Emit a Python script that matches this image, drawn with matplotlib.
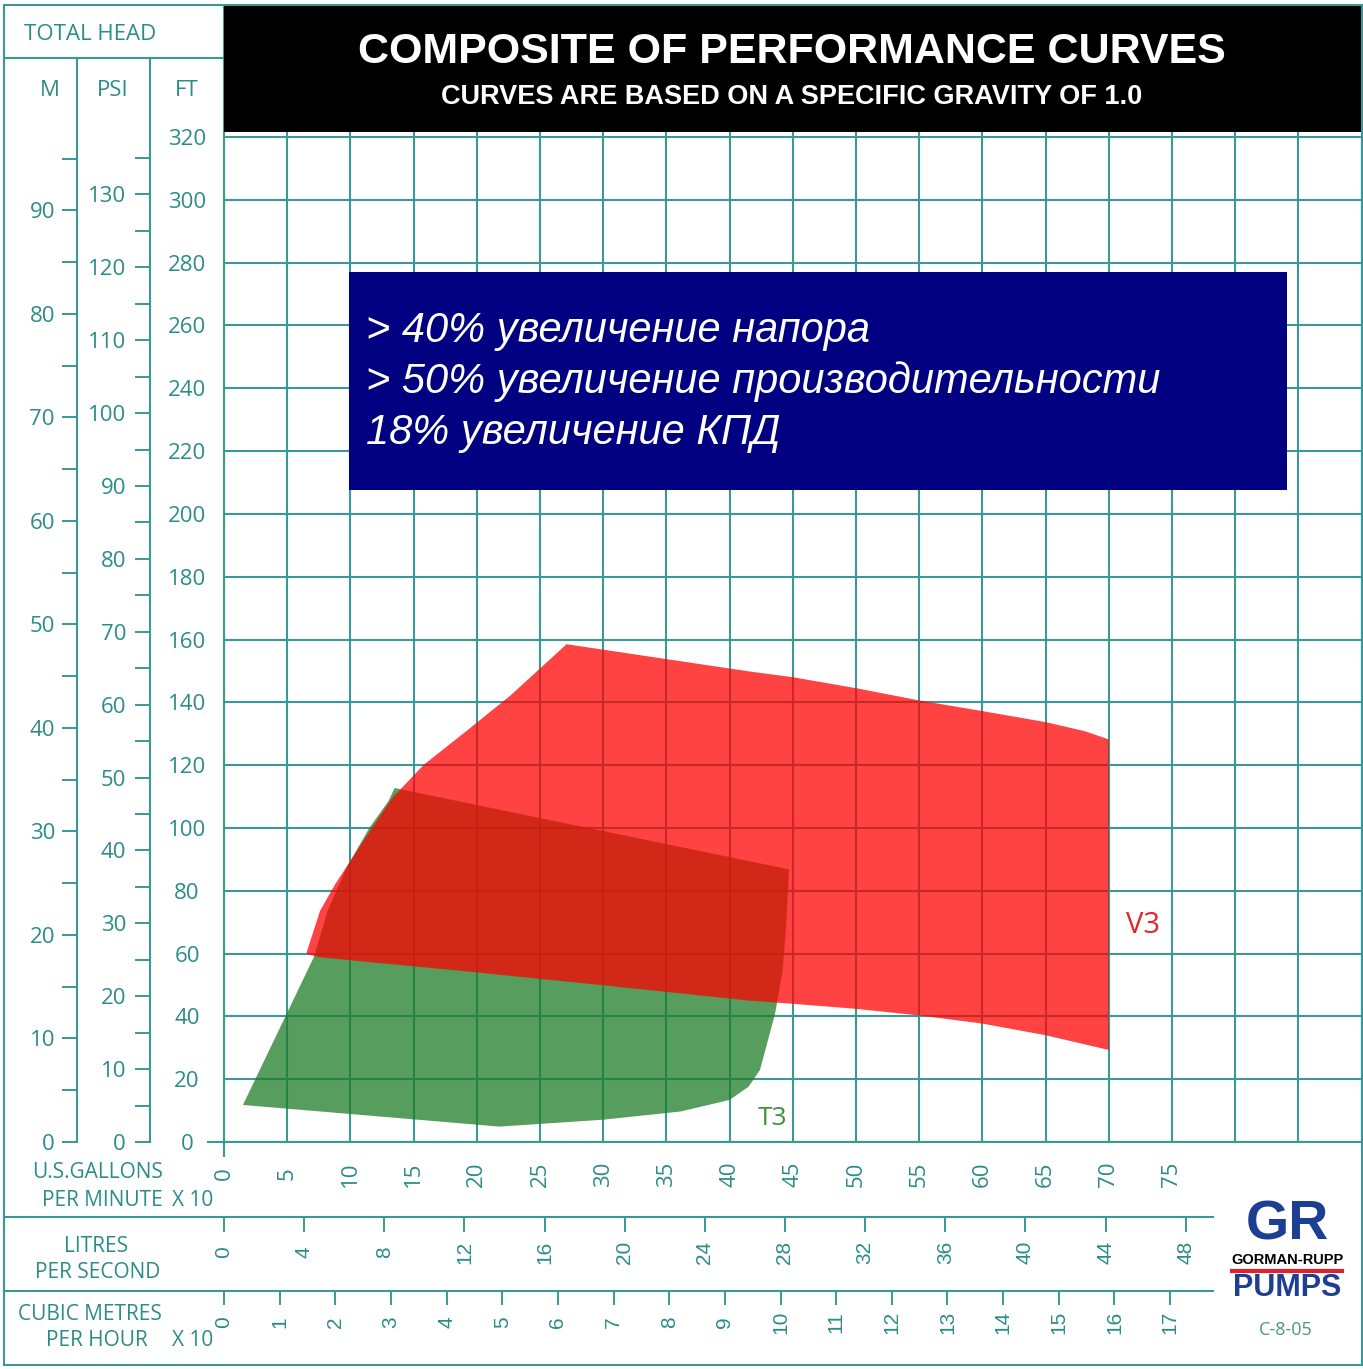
import matplotlib
matplotlib.use('Agg')
import matplotlib.pyplot as plt
from matplotlib.patches import Rectangle, Polygon
from matplotlib.lines import Line2D
import numpy as np

# performance areas: flow in US gallons per minute x10, head in feet
v3_flow = [6.5, 7.6, 8.8, 11.2, 13.3, 15.8, 19.1, 22.7, 27.1, 41.6, 45, 50, 55, 60, 65, 68.1, 70,
           70, 65, 60, 55, 50, 45, 41.6, 30, 18.5, 7.6]
v3_head = [59.9, 73.6, 82.1, 96.9, 109.5, 120.1, 130.6, 142.3, 158.5, 149.8, 148, 144.5, 140.6, 137.2, 133.7, 130.8, 128.2,
           29.3, 34, 37.7, 40.3, 42.4, 44, 45, 49.9, 54.6, 58.8]
t3_flow = [1.5, 7.1, 8.2, 9.7, 11.5, 13.0, 13.5, 28.8, 44.7, 44.5, 44.2, 43.6, 42.4, 41.5, 40, 36.1, 30, 21.8]
t3_head = [11.8, 58.8, 73.6, 87.4, 100, 108.5, 112.7, 100, 86.8, 70.4, 54.6, 40.9, 22.9, 17.6, 13.4, 9.7, 7.1, 4.9]

gpm_ticks = list(range(0, 80, 5))
grid_x = list(range(0, 95, 5))
ft_ticks = list(range(0, 340, 20))
m_major = list(range(0, 100, 10))
m_minor = list(range(5, 100, 10))
psi_major = list(range(0, 140, 10))
psi_minor = list(range(5, 140, 10))
lps_ticks = list(range(0, 52, 4))
m3h_ticks = list(range(0, 18))

box_lines = ['> 40% увеличение напора',
             '> 50% увеличение производительности',
             '18% увеличение КПД']

# scale ratios as printed on the chart
FT_PER_M = 3.296
FT_PER_PSI = 2.321
LPS_PER_GPM = 0.0630902
M3H_PER_GPM = 0.227125

TEAL = '#2b8c88'
GRID = '#3a9995'

plt.rcParams['font.family'] = ['Open Sans', 'DejaVu Sans']

W, H = 1363, 1369
def box(l, t, r, b):
    return [l / W, 1 - b / H, (r - l) / W, (b - t) / H]
def fx(px):
    return px / W
def fy(py):
    return 1 - py / H

PPF = 1005 / 320.0   # pixels per foot
X_L, X_R, Y_B, Y_T = 224, 1361.6, 1142, 6

fig = plt.figure(figsize=(W / 100, H / 100), dpi=100)
fig.patch.set_facecolor('white')

# main chart
ax = fig.add_axes(box(X_L, Y_T, X_R, Y_B))
ax.set_xlim(0, 90)
ax.set_ylim(0, (Y_B - Y_T) / PPF)
ax.set_axisbelow(True)
ax.grid(True, color=GRID, lw=1.5)
for s in ['left', 'bottom', 'right']:
    ax.spines[s].set_color(GRID)
    ax.spines[s].set_linewidth(1.5)
ax.spines['top'].set_visible(False)

ax.set_xticks(grid_x, labels=[str(v) if v in gpm_ticks else '' for v in grid_x])
ax.tick_params(axis='x', length=11, width=1.5, color=GRID, direction='out', pad=12,
               labelrotation=90, labelcolor=TEAL, labelsize=16)
for i, t in enumerate(ax.xaxis.get_major_ticks()):
    t.label1.set_va('center')
    if i > 0:
        t.tick1line.set_visible(False)

ax.set_yticks(ft_ticks)
ax.tick_params(axis='y', length=0, pad=26.6, labelcolor=TEAL, labelsize=16)
for t in ax.yaxis.get_major_ticks():
    t.label1.set_ha('center')
ax.axhline(0, xmin=-(X_L - 208) / (X_R - X_L), xmax=0, color=GRID, lw=1.5, clip_on=False)

ax.add_patch(Polygon(np.column_stack([t3_flow, t3_head]), closed=True,
                     facecolor='#1e7d28', alpha=0.75, edgecolor='none', zorder=2))
ax.add_patch(Polygon(np.column_stack([v3_flow, v3_head]), closed=True,
                     facecolor='#ff0000', alpha=0.74, edgecolor='none', zorder=3))
ax.text(72.7, 69, 'V3', color='#e0262b', fontsize=21, ha='center', va='center')
ax.text(43.4, 7.6, 'T3', color='#3d9140', fontsize=19, ha='center', va='center')

# metres scale
axm = fig.add_axes(box(4, 58, 77, Y_B))
axm.set_ylim(0, (Y_B - 58) / PPF / FT_PER_M)
axm.set_yticks(m_major)
axm.set_yticks(m_minor, minor=True)
axm.tick_params(axis='y', which='both', left=False, right=True, labelleft=True, labelright=False,
                direction='in', length=11, width=1.4, color=GRID, pad=-36.7,
                labelcolor=TEAL, labelsize=16)
# psi scale
axp = fig.add_axes(box(77, 58, 150, Y_B))
axp.set_ylim(0, (Y_B - 58) / PPF / FT_PER_PSI)
axp.set_yticks(psi_major)
axp.set_yticks(psi_minor, minor=True)
axp.tick_params(axis='y', which='both', left=False, right=True, labelleft=True, labelright=False,
                direction='in', length=11, width=1.4, color=GRID, pad=-35.3,
                labelcolor=TEAL, labelsize=16)
for a in (axm, axp):
    a.patch.set_visible(False)
    a.set_xticks([])
    for s in ['left', 'top', 'bottom']:
        a.spines[s].set_visible(False)
    a.spines['right'].set_color(GRID)
    a.spines['right'].set_linewidth(1.5)

# litres per second and cubic metres per hour scales
axl = fig.add_axes(box(X_L, 1217, X_R, 1291))
axl.set_xlim(0, 900 * LPS_PER_GPM)
axl.set_xticks(lps_ticks)
axl.tick_params(axis='x', bottom=False, top=True, labelbottom=False, labeltop=True,
                direction='in', length=11, width=1.4, color=GRID, pad=-25.2,
                labelrotation=90, labelcolor=TEAL, labelsize=15)
axc = fig.add_axes(box(X_L, 1291, X_R, 1365))
axc.set_xlim(0, 900 * M3H_PER_GPM / 10)
axc.set_xticks(m3h_ticks)
axc.tick_params(axis='x', bottom=False, top=True, labelbottom=False, labeltop=True,
                direction='in', length=10, width=1.4, color=GRID, pad=-22.3,
                labelrotation=90, labelcolor=TEAL, labelsize=15)
for a in (axl, axc):
    a.patch.set_visible(False)
    a.set_yticks([])
    for s in a.spines.values():
        s.set_visible(False)
    for t in a.xaxis.get_major_ticks():
        t.label2.set_va('center')
        t.label2.set_family(['Liberation Sans', 'DejaVu Sans'])

# frame and dividers
fig.add_artist(Rectangle((fx(4), fy(1365)), fx(X_R) - fx(4), fy(5) - fy(1365), transform=fig.transFigure,
                         fill=False, edgecolor=GRID, lw=1.5, zorder=4))
for yy, x2 in [(58, 224), (1217, 1213), (1291, 1213)]:
    fig.add_artist(Line2D([fx(4), fx(x2)], [fy(yy), fy(yy)], transform=fig.transFigure, color=GRID, lw=1.5))

# header
fig.add_artist(Rectangle((fx(X_L), fy(132)), fx(X_R) - fx(X_L), fy(6) - fy(132), transform=fig.transFigure,
                         facecolor='black', edgecolor='none', zorder=3))
fig.text(fx(792), fy(52), 'COMPOSITE OF PERFORMANCE CURVES', color='white', fontsize=31, weight='bold',
         family=['Liberation Sans', 'DejaVu Sans'], ha='center', va='center', zorder=5)
fig.text(fx(792), fy(97), 'CURVES ARE BASED ON A SPECIFIC GRAVITY OF 1.0', color='white', fontsize=19.5,
         weight='bold', family=['Liberation Sans', 'DejaVu Sans'], ha='center', va='center', zorder=5)

# blue note box
fig.add_artist(Rectangle((fx(349), fy(490)), fx(1287) - fx(349), fy(272) - fy(490), transform=fig.transFigure,
                         facecolor='#000080', edgecolor='none', zorder=3))
for i, line in enumerate(box_lines):
    fig.text(fx(366), fy(331 + 51 * i), line, color='white', fontsize=30, style='italic',
             family=['Liberation Sans', 'DejaVu Sans'], ha='left', va='center', zorder=5)

# left panel texts
fig.text(fx(90), fy(35), 'TOTAL HEAD', color=TEAL, fontsize=16, ha='center', va='center')
fig.text(fx(50), fy(90), 'M', color=TEAL, fontsize=16, ha='center', va='center')
fig.text(fx(113), fy(90), 'PSI', color=TEAL, fontsize=16, ha='center', va='center')
fig.text(fx(187), fy(91), 'FT', color=TEAL, fontsize=16, ha='center', va='center')
fig.text(fx(98), fy(1173), 'U.S.GALLONS', color=TEAL, fontsize=15, ha='center', va='center')
fig.text(fx(102), fy(1200), 'PER MINUTE', color=TEAL, fontsize=15, ha='center', va='center')
fig.text(fx(193), fy(1200), 'X 10', color=TEAL, fontsize=15, ha='center', va='center')
fig.text(fx(96), fy(1246), 'LITRES', color=TEAL, fontsize=15, ha='center', va='center')
fig.text(fx(98), fy(1272), 'PER SECOND', color=TEAL, fontsize=15, ha='center', va='center')
fig.text(fx(90), fy(1315), 'CUBIC METRES', color=TEAL, fontsize=15, ha='center', va='center')
fig.text(fx(97), fy(1340), 'PER HOUR', color=TEAL, fontsize=15, ha='center', va='center')
fig.text(fx(193), fy(1341), 'X 10', color=TEAL, fontsize=15, ha='center', va='center')

# logo
fig.text(fx(1287), fy(1226), 'GR', color='#1c3f94', fontsize=40, weight='bold',
         family=['Liberation Sans', 'DejaVu Sans'], ha='center', va='center')
fig.text(fx(1287), fy(1260), 'GORMAN-RUPP', color='black', fontsize=10.5, weight='bold',
         family=['Liberation Sans', 'DejaVu Sans'], ha='center', va='center')
fig.add_artist(Line2D([fx(1232), fx(1342)], [fy(1271), fy(1271)], transform=fig.transFigure,
                      color='#e0202a', lw=3))
fig.text(fx(1287), fy(1288), 'PUMPS', color='#1c3f94', fontsize=22, weight='bold',
         family=['Liberation Sans', 'DejaVu Sans'], ha='center', va='center')
fig.text(fx(1286), fy(1330), 'C-8-05', color='#4a9a70', fontsize=13, ha='center', va='center')

fig.savefig('out.png', dpi=100)
